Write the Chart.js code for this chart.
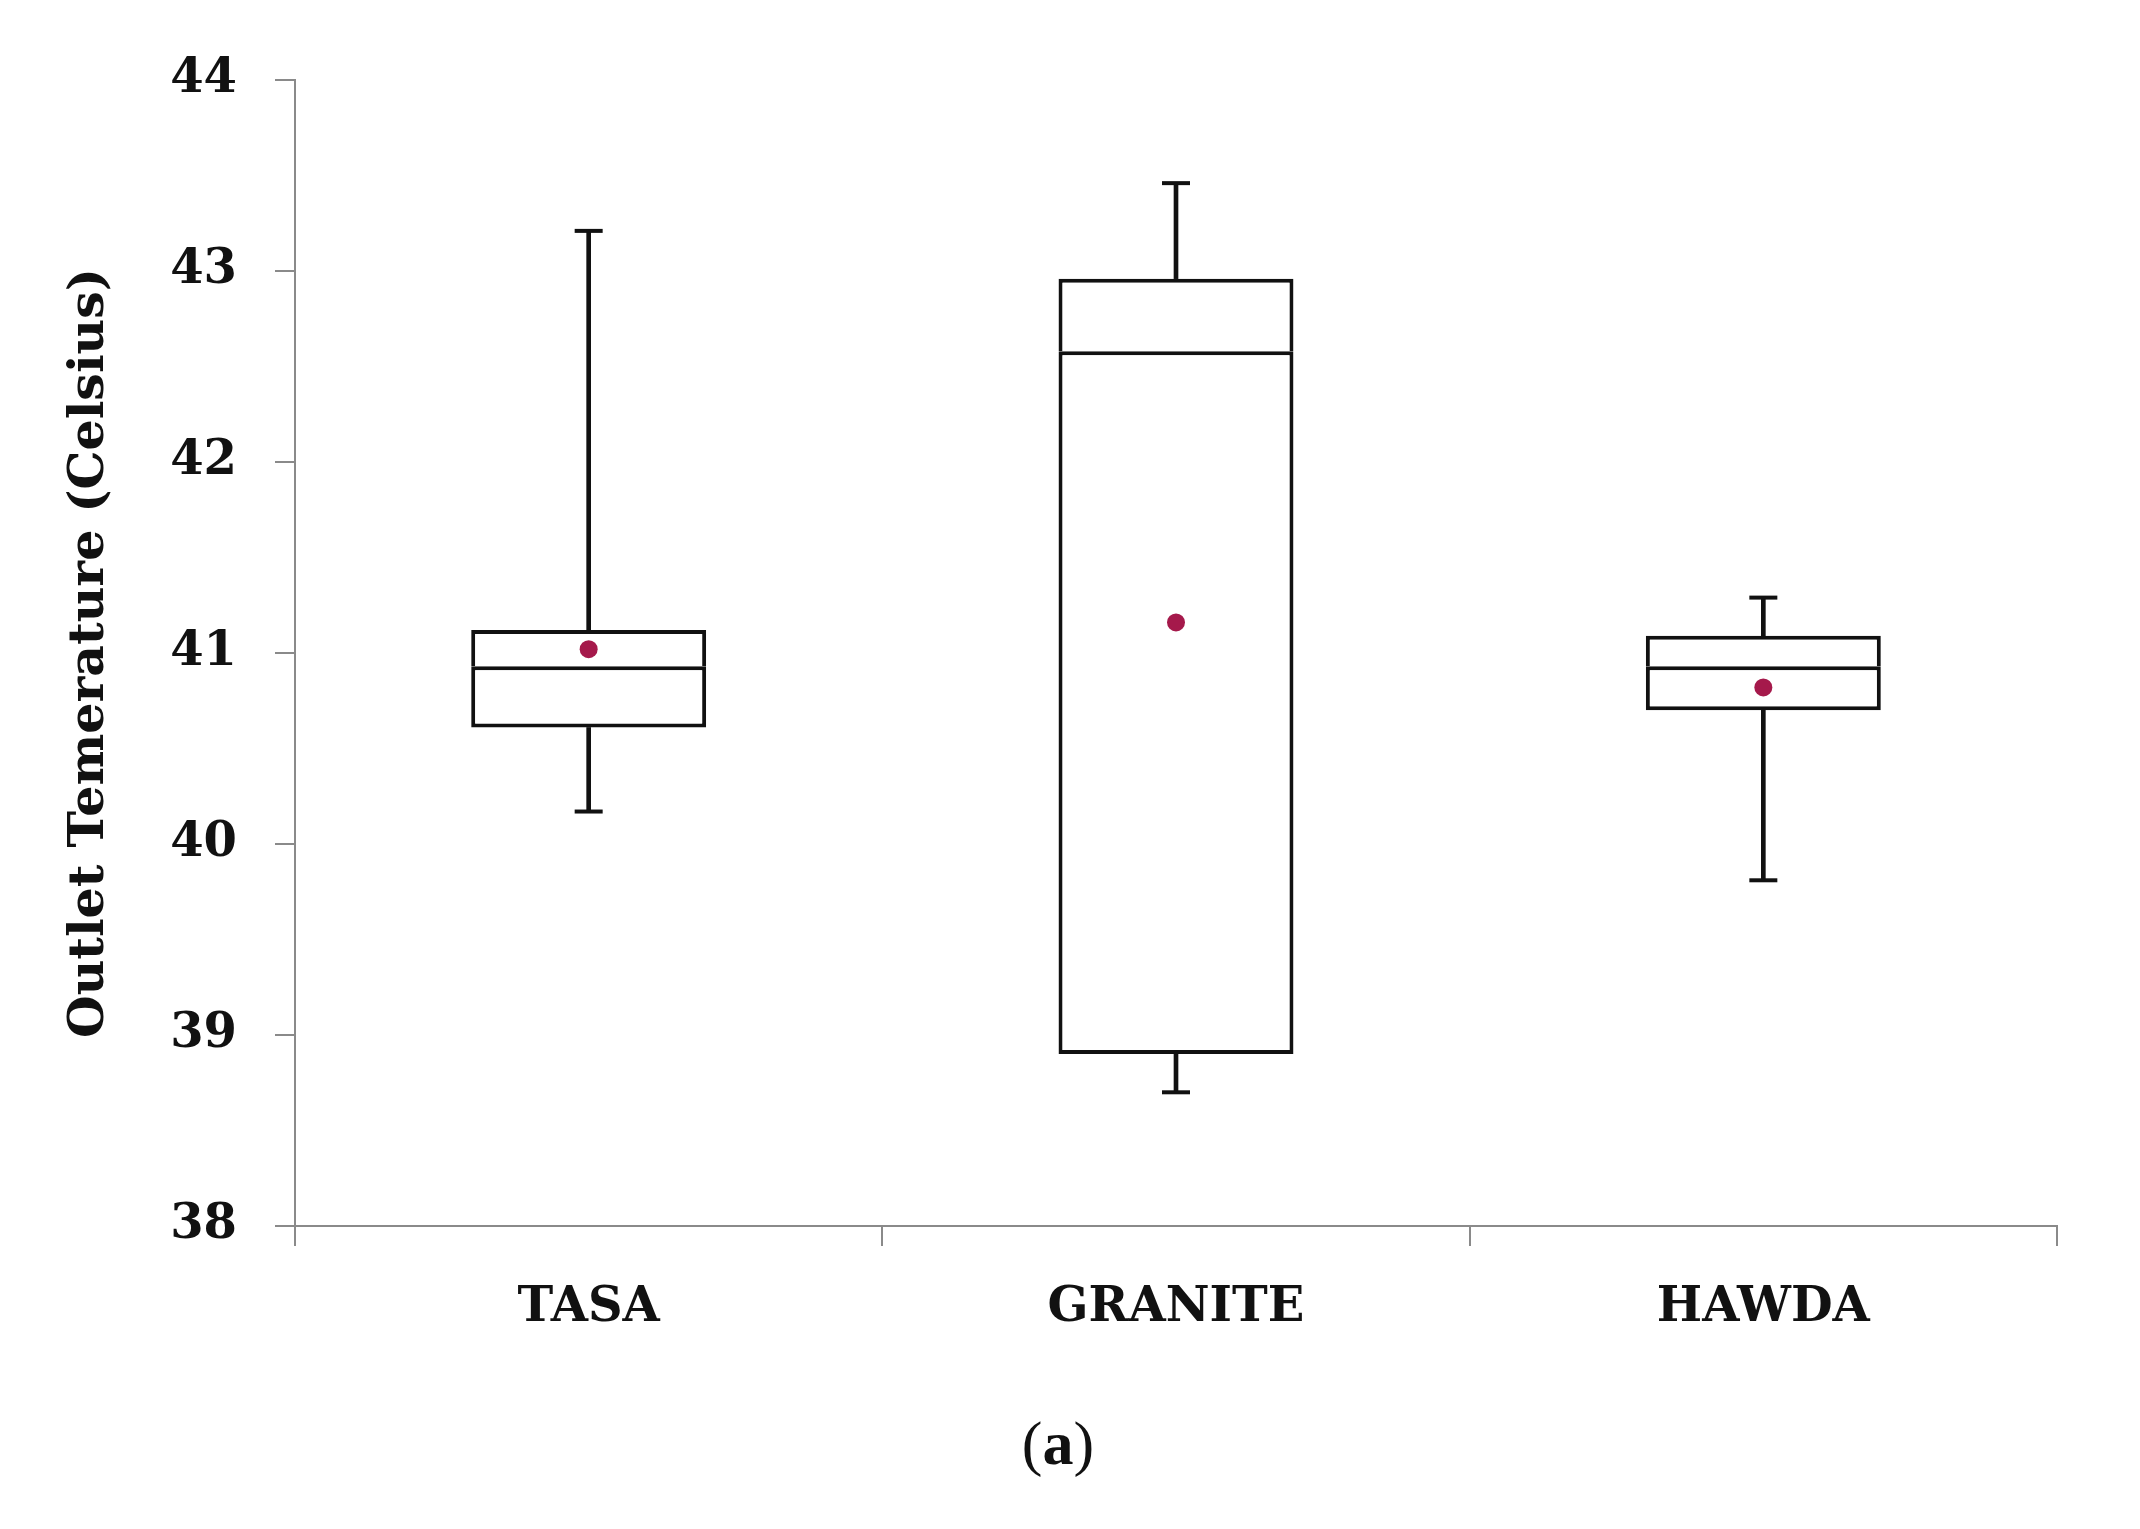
<!DOCTYPE html>
<html>
<head>
<meta charset="utf-8">
<script src="https://cdn.jsdelivr.net/npm/chart.js@4.4.1/dist/chart.umd.min.js"></script>
<style>
  html, body { margin: 0; padding: 0; background: #ffffff; }
  #wrap { position: relative; width: 2140px; height: 1529px; }
  #caption { position: absolute; left: 0; width: 2116px; top: 1408px; text-align: center;
    font-family: "Liberation Serif", "DejaVu Serif", serif; font-size: 62px; color: #111; }
  #caption b { font-weight: bold; }
</style>
</head>
<body>
<div id="wrap">
  <canvas id="c" width="2140" height="1529"></canvas>
  <div id="caption">(<b>a</b>)</div>
</div>
<script>
// ---- data ----
const categories = ["TASA", "GRANITE", "HAWDA"];
const whiskerMin = [40.17, 38.70, 39.81];
const q1Values   = [40.61, 38.90, 40.70];
const medians    = [40.93, 42.58, 40.93];
const q3Values   = [41.12, 42.96, 41.09];
const whiskerMax = [43.21, 43.46, 41.29];
const means      = [41.02, 41.16, 40.82];
const yTicks     = [38, 39, 40, 41, 42, 43, 44];
const yTitle     = "Outlet Temerature (Celsius)";

const lowerWhisker = categories.map((_, i) => [whiskerMin[i], q1Values[i]]);
const upperWhisker = categories.map((_, i) => [q3Values[i], whiskerMax[i]]);
const lowerBox = categories.map((_, i) => [q1Values[i], medians[i]]);
const upperBox = categories.map((_, i) => [medians[i], q3Values[i]]);

const AXIS = "#8a8a8a";
const INK = "#111111";
const SERIF = "'DejaVu Serif', 'Liberation Serif', serif";

new Chart(document.getElementById("c"), {
  data: {
    labels: categories,
    datasets: [
      { type: "line", label: "Mean", data: means, showLine: false, order: 0,
        pointStyle: "circle", pointRadius: 9, pointBackgroundColor: "#A5194B", pointBorderWidth: 0 },
      { type: "line", label: "Min cap", data: whiskerMin, showLine: false, order: 1,
        pointStyle: "line", pointRadius: 14, pointBorderColor: INK, pointBorderWidth: 4 },
      { type: "line", label: "Max cap", data: whiskerMax, showLine: false, order: 1,
        pointStyle: "line", pointRadius: 14, pointBorderColor: INK, pointBorderWidth: 4 },
      { type: "bar", label: "Q1-Median", data: lowerBox, grouped: false, order: 2,
        backgroundColor: "#ffffff", borderColor: INK, borderSkipped: false,
        borderWidth: { top: 4, bottom: 4, left: 4, right: 4 },
        barPercentage: 0.4, categoryPercentage: 1.0 },
      { type: "bar", label: "Median-Q3", data: upperBox, grouped: false, order: 2,
        backgroundColor: "#ffffff", borderColor: INK, borderSkipped: false,
        borderWidth: { top: 4, bottom: 0, left: 4, right: 4 },
        barPercentage: 0.4, categoryPercentage: 1.0 },
      { type: "bar", label: "Lower whisker", data: lowerWhisker, grouped: false, order: 3,
        backgroundColor: INK, borderWidth: 0, barThickness: 4 },
      { type: "bar", label: "Upper whisker", data: upperWhisker, grouped: false, order: 3,
        backgroundColor: INK, borderWidth: 0, barThickness: 4 }
    ]
  },
  options: {
    responsive: false,
    devicePixelRatio: 1,
    animation: false,
    layout: { padding: { top: 80, right: 83, bottom: 0, left: 0 } },
    plugins: { legend: { display: false }, tooltip: { enabled: false } },
    scales: {
      x: {
        type: "category",
        offset: true,
        grid: { offset: true, drawOnChartArea: false, tickLength: 20, color: AXIS, lineWidth: 2 },
        border: { color: AXIS, width: 2 },
        ticks: { color: INK, padding: 34, font: { family: SERIF, weight: "bold", size: 48 } },
        afterFit: (s) => { s.height = 303; }
      },
      y: {
        type: "linear",
        min: yTicks[0],
        max: yTicks[yTicks.length - 1],
        afterBuildTicks: (s) => { s.ticks = yTicks.map(v => ({ value: v })); },
        grid: { drawOnChartArea: false, tickLength: 20, color: AXIS, lineWidth: 2 },
        border: { color: AXIS, width: 2 },
        ticks: { color: INK, padding: 38, font: { family: SERIF, weight: "bold", size: 48 } },
        title: { display: true, text: yTitle, color: INK, padding: { top: 61, bottom: 0 },
                 font: { family: SERIF, weight: "bold", size: 49 } },
        afterFit: (s) => { s.width = 295; }
      }
    }
  }
});
</script>
</body>
</html>
